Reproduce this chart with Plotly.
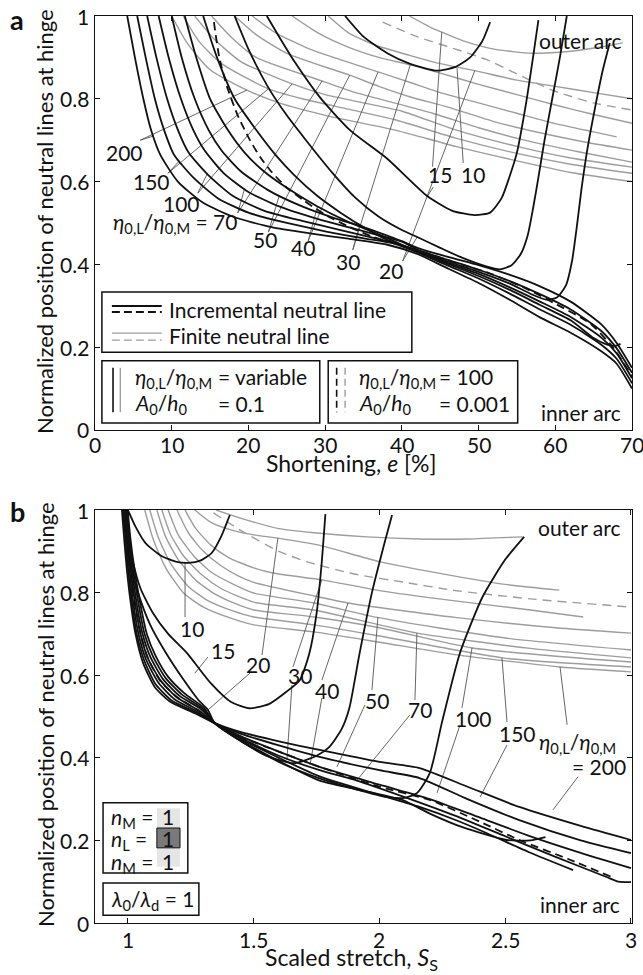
import plotly.graph_objects as go

FONT = "Lato"
FS = 21
BLACK = "#111111"
GRAY = "#9d9d9d"
LEAD = "#555555"

# ---------------- Panel a : incremental neutral lines (black) ----------------
a200_x = [4.2,5.2,6.3,7.3,8.5,10.8,14,18,23,28,33,38,42,46,50,54,58,62,66,68,70]
a200_y = [1.0,0.9,0.8,0.725,0.665,0.6,0.55,0.515,0.49,0.475,0.462,0.448,0.425,0.39,0.355,0.315,0.272,0.235,0.19,0.16,0.10]
a150_x = [5.5,6.6,7.8,9.0,10.3,12.8,16,20,25,30,35,39,42,46,50,54,58,62,66,68,70]
a150_y = [1.0,0.9,0.8,0.725,0.665,0.61,0.56,0.525,0.5,0.48,0.463,0.45,0.429,0.397,0.366,0.33,0.291,0.254,0.206,0.172,0.113]
a100_x = [6.8,8.0,9.4,10.8,12.2,14.8,18,22,27,32,36,39,42,46,50,54,58,62,66,68,70]
a100_y = [1.0,0.9,0.8,0.725,0.67,0.615,0.565,0.53,0.505,0.483,0.465,0.452,0.433,0.404,0.377,0.345,0.31,0.273,0.223,0.185,0.125]
a70_x = [8.3,9.6,11.2,12.8,14.3,16.8,20,24,29,33,37,40,42,46,50,54,58,62,66,68,70]
a70_y = [1.0,0.9,0.8,0.725,0.675,0.62,0.575,0.54,0.51,0.49,0.47,0.455,0.436,0.411,0.387,0.36,0.328,0.291,0.239,0.197,0.138]
a50_x = [10.0,11.3,13.0,14.8,16.5,19,22.5,27,31,35,38,40,42,46,50,54,58,62,66,68,70]
a50_y = [1.0,0.9,0.8,0.725,0.675,0.625,0.58,0.54,0.513,0.49,0.47,0.456,0.44,0.418,0.398,0.375,0.347,0.31,0.255,0.21,0.15]
a40_x = [11.7,13.2,15.0,17.3,19.5,22,25,29,33,36,38.5,42,46,50,54,58,62,65,66.5,67.8,68.5]
a40_y = [1.0,0.9,0.8,0.725,0.67,0.625,0.585,0.54,0.503,0.48,0.46,0.431,0.401,0.372,0.339,0.302,0.265,0.222,0.208,0.203,0.208]
a30_x = [14.1,15.9,18.2,21,23.5,26,29,32,35,38,42,46,50,54,57,58.8,60.2,61.4,62.2,62.8,63.4,64.2,65.2,66.2,67.1]
a30_y = [1.0,0.9,0.8,0.725,0.665,0.615,0.565,0.525,0.49,0.46,0.434,0.407,0.382,0.354,0.327,0.315,0.32,0.35,0.41,0.49,0.58,0.68,0.78,0.87,0.935]
a20_x = [18.2,20,22.5,25,27.5,31,34,37,40,42,45,48,51,52.8,54.3,55.5,56.4,57.1,57.8,58.6,59.6,60.6,61.5]
a20_y = [1.0,0.92,0.83,0.76,0.70,0.62,0.56,0.515,0.483,0.466,0.44,0.415,0.395,0.388,0.398,0.425,0.47,0.535,0.61,0.7,0.8,0.9,1.0]
a15_x = [22.4,24,26,29.3,33.2,38.1,43.3,46.5,49.5,51.5,53,54,55,56.2,57.1,57.8]
a15_y = [1.0,0.95,0.89,0.804,0.725,0.655,0.565,0.53,0.519,0.525,0.56,0.61,0.67,0.79,0.9,0.99]
a10_x = [32.6,35,38.1,41,44.6,47,48.9,50.5,51.5]
a10_y = [1.0,0.95,0.91,0.885,0.868,0.877,0.9,0.94,0.985]
adash_x = [15.5,16.2,17.2,18.6,20.2,21.5,22.8,25,27.1,30,33.2,36.3,40,43.5,47.2,51.5,55.8,60,64.5,67.5,70]
adash_y = [0.985,0.9,0.83,0.76,0.70,0.66,0.628,0.585,0.556,0.52,0.49,0.466,0.445,0.425,0.403,0.378,0.345,0.305,0.258,0.2,0.13]

# ---------------- Panel a : finite neutral lines (gray) ----------------
ga200_x = [10,12,15,19.8,24,30,39,47,55,62,70]
ga200_y = [1,0.935,0.87,0.821,0.79,0.76,0.725,0.685,0.65,0.622,0.60]
ga150_x = [11.5,13.5,16.5,22.6,27,33,39,47,55,62,70]
ga150_y = [1,0.94,0.885,0.824,0.8,0.775,0.75,0.705,0.668,0.642,0.62]
ga100_x = [13,15.5,19,25.7,30,35,40,47,55,62,70]
ga100_y = [1,0.945,0.89,0.836,0.81,0.79,0.77,0.725,0.685,0.657,0.635]
ga70_x = [15.2,17.7,21,29.6,34,39,44,50,56,63,70]
ga70_y = [1,0.95,0.9,0.843,0.815,0.79,0.765,0.73,0.7,0.672,0.647]
ga50_x = [18.2,21,25,33.2,37,41,46,52,58,64,70]
ga50_y = [1,0.955,0.91,0.857,0.83,0.805,0.78,0.745,0.718,0.695,0.676]
ga40_x = [20.5,23.5,28,36.9,41,45,50,55,60,65,68]
ga40_y = [1,0.96,0.92,0.865,0.84,0.815,0.79,0.765,0.74,0.72,0.708]
ga30_x = [25.7,29,33,37,41.1,45,50,55,60,65,70]
ga30_y = [1,0.96,0.925,0.9,0.882,0.862,0.835,0.81,0.785,0.762,0.741]
ga20_x = [30.4,33,36.5,41,45,49.5,55,60,65,70]
ga20_y = [1,0.96,0.93,0.905,0.885,0.868,0.845,0.83,0.815,0.80]
ga15_x = [41,44,45.2,48,52,57,62,66,68.8]
ga15_y = [1,0.97,0.961,0.94,0.92,0.91,0.915,0.925,0.935]
gadash_x = [37.5,42,47,51,55,59.7,65,70]
gadash_y = [0.985,0.95,0.92,0.895,0.86,0.82,0.79,0.773]

# ---------------- Panel b : incremental neutral lines (black) ----------------
b200_x = [0.976,0.985,0.995,1.01,1.03,1.06,1.107,1.17,1.266,1.345,1.45,1.6,1.762,2.0,2.159,2.35,2.556,2.8,3.0]
b200_y = [1,0.93,0.86,0.78,0.7,0.63,0.571,0.535,0.508,0.484,0.462,0.44,0.419,0.39,0.375,0.33,0.281,0.235,0.201]
b150_x = [0.98,0.99,1.0,1.015,1.035,1.065,1.11,1.175,1.27,1.345,1.45,1.6,1.762,2.0,2.159,2.35,2.556,2.8,3.0]
b150_y = [1,0.93,0.86,0.78,0.7,0.635,0.578,0.538,0.51,0.484,0.458,0.43,0.402,0.37,0.351,0.3,0.249,0.2,0.169]
b100_x = [0.984,0.994,1.005,1.02,1.042,1.072,1.12,1.185,1.275,1.345,1.45,1.6,1.762,2.0,2.2,2.4,2.6,2.8,3.0]
b100_y = [1,0.93,0.86,0.78,0.7,0.638,0.583,0.542,0.512,0.484,0.452,0.415,0.378,0.335,0.3,0.255,0.21,0.17,0.133]
b70_x = [0.988,0.998,1.01,1.027,1.05,1.08,1.13,1.195,1.28,1.345,1.45,1.6,1.762,1.91,2.1,2.3,2.5,2.7,2.9,2.95,3.0]
b70_y = [1,0.93,0.86,0.78,0.7,0.64,0.587,0.546,0.515,0.484,0.448,0.405,0.37,0.345,0.305,0.26,0.21,0.16,0.112,0.1,0.099]
b50_x = [0.992,1.002,1.015,1.033,1.058,1.09,1.14,1.205,1.29,1.345,1.45,1.6,1.762,2.0,2.159,2.3,2.425,2.6,2.77]
b50_y = [1,0.93,0.86,0.78,0.7,0.643,0.59,0.55,0.518,0.484,0.445,0.4,0.355,0.31,0.281,0.25,0.218,0.17,0.128]
b40_x = [0.996,1.006,1.02,1.04,1.066,1.1,1.15,1.215,1.295,1.345,1.45,1.6,1.762,1.9,2.09,2.2,2.33,2.505,2.6,2.66]
b40_y = [1,0.93,0.86,0.78,0.7,0.645,0.593,0.553,0.52,0.484,0.442,0.392,0.345,0.325,0.298,0.265,0.232,0.201,0.2,0.208]
b30_x = [0.999,1.01,1.025,1.047,1.075,1.11,1.16,1.225,1.3,1.345,1.45,1.6,1.762,1.9,2.03,2.1,2.15,2.2,2.25,2.32,2.41,2.5,2.575]
b30_y = [1,0.93,0.86,0.78,0.7,0.647,0.596,0.556,0.522,0.484,0.44,0.39,0.35,0.325,0.305,0.303,0.315,0.363,0.49,0.654,0.79,0.88,0.935]
b20_x = [0.997,1.0,1.01,1.04,1.09,1.15,1.22,1.28,1.318,1.345,1.45,1.55,1.66,1.75,1.8,1.85,1.88,1.92,1.97,2.02,2.05]
b20_y = [1,0.93,0.87,0.8,0.72,0.655,0.59,0.54,0.516,0.484,0.44,0.405,0.387,0.405,0.426,0.47,0.52,0.65,0.8,0.92,0.988]
b15_x = [0.998,1.005,1.02,1.05,1.1,1.16,1.234,1.33,1.41,1.484,1.56,1.63,1.683,1.72,1.75,1.77,1.785]
b15_y = [1,0.93,0.875,0.81,0.75,0.7,0.654,0.58,0.535,0.52,0.53,0.56,0.588,0.65,0.75,0.87,0.99]
b10_x = [1.0,1.03,1.07,1.13,1.19,1.24,1.29,1.333,1.37,1.405]
b10_y = [1.0,0.96,0.92,0.89,0.875,0.872,0.878,0.896,0.935,0.988]
bdash_x = [0.985,0.995,1.008,1.025,1.05,1.08,1.13,1.2,1.28,1.345,1.45,1.6,1.762,2.0,2.2,2.4,2.556,2.75,2.925]
bdash_y = [1,0.93,0.86,0.78,0.7,0.64,0.585,0.545,0.515,0.484,0.45,0.415,0.378,0.33,0.298,0.245,0.201,0.155,0.111]

# ---------------- Panel b : finite neutral lines (gray) ----------------
gb200_x = [1.067,1.1,1.15,1.22,1.3,1.4,1.5,1.74,2.0,2.3,2.72,3.0]
gb200_y = [1,0.93,0.86,0.8,0.765,0.74,0.722,0.705,0.68,0.65,0.62,0.608]
gb150_x = [1.087,1.12,1.17,1.24,1.32,1.42,1.5,1.74,2.0,2.49,3.0]
gb150_y = [1,0.935,0.87,0.815,0.78,0.755,0.741,0.722,0.695,0.642,0.62]
gb100_x = [1.115,1.15,1.2,1.27,1.35,1.42,1.5,1.74,2.0,2.37,3.0]
gb100_y = [1,0.935,0.88,0.83,0.795,0.775,0.758,0.741,0.715,0.666,0.632]
gb70_x = [1.135,1.17,1.22,1.29,1.37,1.5,1.74,2.15,2.6,3.0]
gb70_y = [1,0.94,0.89,0.845,0.81,0.777,0.758,0.702,0.665,0.642]
gb50_x = [1.16,1.2,1.26,1.33,1.42,1.5,1.74,1.99,2.5,3.0]
gb50_y = [1,0.94,0.89,0.85,0.82,0.799,0.775,0.74,0.69,0.661]
gb40_x = [1.195,1.24,1.3,1.37,1.44,1.5,1.74,1.875,2.3,2.7,3.0]
gb40_y = [1,0.945,0.9,0.865,0.84,0.825,0.792,0.775,0.74,0.715,0.702]
gb30_x = [1.227,1.27,1.33,1.4,1.5,1.6,1.771,2.0,2.3,2.6,2.81]
gb30_y = [1,0.955,0.915,0.885,0.86,0.845,0.831,0.805,0.78,0.758,0.741]
gb20_x = [1.266,1.33,1.42,1.5,1.596,1.76,2.0,2.3,2.5,2.715]
gb20_y = [1,0.97,0.95,0.94,0.932,0.915,0.875,0.84,0.82,0.806]
gb15_x = [1.35,1.45,1.6,1.74,1.95,2.16,2.35,2.57]
gb15_y = [1,0.98,0.955,0.945,0.935,0.93,0.93,0.935]
gbdash_x = [1.34,1.45,1.6,1.716,1.9,2.1,2.29,2.6,3.0]
gbdash_y = [0.993,0.95,0.9,0.874,0.845,0.825,0.806,0.785,0.765]

# ---------------- ticks ----------------
xa_ticks = [0, 10, 20, 30, 40, 50, 60, 70]
xa_labels = ["0", "10", "20", "30", "40", "50", "60", "70"]
xb_ticks = [1, 1.5, 2, 2.5, 3]
xb_labels = ["1", "1.5", "2", "2.5", "3"]
y_ticks = [0, 0.2, 0.4, 0.6, 0.8, 1]
y_labels = ["0", "0.2", "0.4", "0.6", "0.8", "1"]

# ---------------- labels and leader lines ----------------
lab_a_text = ["200", "150", "100", "<i>η</i><sub>0,L</sub>/<i>η</i><sub>0,M</sub> = 70", "50", "40", "30", "20", "15", "10"]
lab_a_x = [3.8, 7.4, 11.3, 10.4, 22.2, 27.1, 33.0, 38.6, 45.0, 49.3]
lab_a_y = [0.671, 0.60, 0.548, 0.50, 0.459, 0.44, 0.408, 0.386, 0.616, 0.616]
lead_a = [
    (5.9, 0.70, 19.8, 0.821), (5.9, 0.70, 7.6, 0.71),
    (9.5, 0.62, 22.6, 0.824), (9.5, 0.62, 11.0, 0.65),
    (13.4, 0.572, 25.7, 0.836), (13.4, 0.572, 14.6, 0.618),
    (18.6, 0.524, 29.6, 0.843), (18.6, 0.524, 19.5, 0.583),
    (22.6, 0.478, 33.2, 0.857), (22.6, 0.478, 24.0, 0.565),
    (27.8, 0.457, 36.9, 0.865), (27.8, 0.457, 29.0, 0.54),
    (33.6, 0.435, 41.1, 0.882), (33.6, 0.435, 34.5, 0.495),
    (40.1, 0.408, 49.5, 0.868), (40.1, 0.408, 42.0, 0.466),
    (44.0, 0.636, 45.2, 0.961), (44.1, 0.587, 43.3, 0.563),
    (48.0, 0.645, 47.2, 0.874),
]
lab_b_text = ["10", "15", "20", "30", "40", "50", "70", "100", "150",
              "<i>η</i><sub>0,L</sub>/<i>η</i><sub>0,M</sub>", "= 200"]
lab_b_x = [1.254, 1.378, 1.517, 1.684, 1.791, 1.99, 2.161, 2.372, 2.547, 2.789, 2.873]
lab_b_y = [0.714, 0.661, 0.625, 0.60, 0.564, 0.54, 0.516, 0.496, 0.46, 0.436, 0.378]
lead_b = [
    (1.227, 0.741, 1.227, 0.872),
    (1.318, 0.644, 1.266, 0.605),
    (1.533, 0.649, 1.596, 0.932), (1.485, 0.605, 1.318, 0.516),
    (1.656, 0.62, 1.771, 0.831), (1.652, 0.576, 1.632, 0.395),
    (1.771, 0.588, 1.875, 0.775), (1.771, 0.545, 1.724, 0.383),
    (1.97, 0.564, 1.994, 0.741), (1.942, 0.528, 1.831, 0.378),
    (2.141, 0.54, 2.149, 0.702), (2.121, 0.504, 1.911, 0.346),
    (2.328, 0.521, 2.368, 0.666), (2.32, 0.479, 2.229, 0.315),
    (2.507, 0.487, 2.487, 0.642), (2.507, 0.431, 2.4, 0.305),
    (2.746, 0.48, 2.718, 0.62), (2.789, 0.354, 2.69, 0.274),
]

fig = go.Figure()


def add(xs, ys, xa, ya, color, width, dash="solid"):
    fig.add_trace(go.Scatter(
        x=xs, y=ys, xaxis=xa, yaxis=ya, mode="lines",
        line=dict(color=color, width=width, dash=dash, shape="spline", smoothing=0.6),
        hoverinfo="skip", showlegend=False))


def add_segments(segs, xa, ya):
    xs, ys = [], []
    for x0, y0, x1, y1 in segs:
        xs += [x0, x1, None]
        ys += [y0, y1, None]
    fig.add_trace(go.Scatter(x=xs, y=ys, xaxis=xa, yaxis=ya, mode="lines",
                             line=dict(color=LEAD, width=0.9),
                             hoverinfo="skip", showlegend=False))


for gx, gy in [(ga200_x, ga200_y), (ga150_x, ga150_y), (ga100_x, ga100_y), (ga70_x, ga70_y),
               (ga50_x, ga50_y), (ga40_x, ga40_y), (ga30_x, ga30_y), (ga20_x, ga20_y),
               (ga15_x, ga15_y)]:
    add(gx, gy, "x", "y", GRAY, 1.4)
add(gadash_x, gadash_y, "x", "y", GRAY, 1.4, "9px,6px")
for gx, gy in [(gb200_x, gb200_y), (gb150_x, gb150_y), (gb100_x, gb100_y), (gb70_x, gb70_y),
               (gb50_x, gb50_y), (gb40_x, gb40_y), (gb30_x, gb30_y), (gb20_x, gb20_y),
               (gb15_x, gb15_y)]:
    add(gx, gy, "x2", "y2", GRAY, 1.4)
add(gbdash_x, gbdash_y, "x2", "y2", GRAY, 1.4, "9px,6px")

add_segments(lead_a, "x", "y")
add_segments(lead_b, "x2", "y2")

for bx, by in [(a200_x, a200_y), (a150_x, a150_y), (a100_x, a100_y), (a70_x, a70_y),
               (a50_x, a50_y), (a40_x, a40_y), (a30_x, a30_y), (a20_x, a20_y),
               (a15_x, a15_y), (a10_x, a10_y)]:
    add(bx, by, "x", "y", BLACK, 1.8)
add(adash_x, adash_y, "x", "y", BLACK, 1.8, "8px,5px")
for bx, by in [(b200_x, b200_y), (b150_x, b150_y), (b100_x, b100_y), (b70_x, b70_y),
               (b50_x, b50_y), (b40_x, b40_y), (b30_x, b30_y), (b20_x, b20_y),
               (b15_x, b15_y), (b10_x, b10_y)]:
    add(bx, by, "x2", "y2", BLACK, 1.8)
add(bdash_x, bdash_y, "x2", "y2", BLACK, 1.8, "8px,5px")

# legend samples panel a
add([2.2, 8.7], [0.2995, 0.2995], "x", "y", BLACK, 1.8)
add([2.2, 8.7], [0.285, 0.285], "x", "y", BLACK, 1.8, "8px,4px")
add([2.2, 8.7], [0.234, 0.234], "x", "y", GRAY, 1.4)
add([2.2, 8.7], [0.217, 0.217], "x", "y", GRAY, 1.4, "8px,4px")
add([2.35, 2.35], [0.15, 0.043], "x", "y", BLACK, 1.6)
add([3.3, 3.3], [0.15, 0.043], "x", "y", GRAY, 1.4)
add([31.5, 31.5], [0.15, 0.043], "x", "y", BLACK, 1.6, "7px,4px")
add([32.6, 32.6], [0.15, 0.043], "x", "y", GRAY, 1.4, "7px,4px")

ann = []


def txt(t, x, y, xr, yr, size=FS, xa="center", ya="middle", **kw):
    ann.append(dict(text=t, x=x, y=y, xref=xr, yref=yr, showarrow=False,
                    xanchor=xa, yanchor=ya, font=dict(family=FONT, size=size, color=BLACK), **kw))


for v, t in zip(xa_ticks, xa_labels):
    txt(t, v, 0, "x", "y", yshift=-15)
for v, t in zip(xb_ticks, xb_labels):
    txt(t, v, 0, "x2", "y2", yshift=-16)
for v, t in zip(y_ticks, y_labels):
    txt(t, 0, v, "x", "y", xa="right", xshift=-4)
    txt(t, 0.869, v, "x2", "y2", xa="right", xshift=-4)

for t, x, y in zip(lab_a_text, lab_a_x, lab_a_y):
    txt(t, x, y, "x", "y")
for t, x, y in zip(lab_b_text, lab_b_x, lab_b_y):
    txt(t, x, y, "x2", "y2")

txt("Incremental neutral line", 9.4, 0.292, "x", "y", xa="left")
txt("Finite neutral line", 9.4, 0.227, "x", "y", xa="left")
txt("<i>η</i><sub>0,L</sub>/<i>η</i><sub>0,M</sub>", 4.9, 0.125, "x", "y", xa="left")
txt("= variable", 15.8, 0.128, "x", "y", xa="left")
txt("<i>A</i><sub>0</sub>/<i>h</i><sub>0</sub>", 4.9, 0.063, "x", "y", xa="left")
txt("= 0.1", 15.8, 0.065, "x", "y", xa="left")
txt("<i>η</i><sub>0,L</sub>/<i>η</i><sub>0,M</sub>", 34.2, 0.125, "x", "y", xa="left")
txt("= 100", 44.6, 0.128, "x", "y", xa="left")
txt("<i>A</i><sub>0</sub>/<i>h</i><sub>0</sub>", 34.2, 0.063, "x", "y", xa="left")
txt("= 0.001", 44.6, 0.065, "x", "y", xa="left")
txt("outer arc", 68.8, 0.94, "x", "y", xa="right")
txt("inner arc", 68.8, 0.042, "x", "y", xa="right")

txt("<i>n</i><sub>M</sub> =", 0.925, 0.255, "x2", "y2", xa="left")
txt("<i>n</i><sub>L</sub> =", 0.925, 0.2, "x2", "y2", xa="left")
txt("<i>n</i><sub>M</sub> =", 0.925, 0.146, "x2", "y2", xa="left")
txt("1", 1.161, 0.257, "x2", "y2")
txt("1", 1.161, 0.204, "x2", "y2")
txt("1", 1.161, 0.150, "x2", "y2")
txt("<i>λ</i><sub>0</sub>/<i>λ</i><sub>d</sub> = 1", 0.925, 0.056, "x2", "y2", xa="left")
txt("outer arc", 2.965, 0.958, "x2", "y2", xa="right")
txt("inner arc", 2.965, 0.044, "x2", "y2", xa="right")

txt("Shortening, <i>e</i> [%]", 33.5, 0, "x", "y", size=23, yshift=-33)
txt("Scaled stretch, <i>S</i><sub>S</sub>", 1.89, 0, "x2", "y2", size=23, yshift=-35)
txt("Normalized position of neutral lines at hinge", 0, 0.7729, "paper", "paper",
    size=22, xshift=-50, textangle=-90)
txt("Normalized position of neutral lines at hinge", 0, 0.2293, "paper", "paper",
    size=22, xshift=-50, textangle=-90)
ann.append(dict(text="<b>a</b>", x=0, y=1, xref="paper", yref="paper", xanchor="center", yanchor="middle",
                xshift=-78, yshift=-3, showarrow=False, font=dict(family=FONT, size=27, color=BLACK)))
ann.append(dict(text="<b>b</b>", x=0, y=0.4553, xref="paper", yref="paper", xanchor="center", yanchor="middle",
                xshift=-78, yshift=-1, showarrow=False, font=dict(family=FONT, size=27, color=BLACK)))

shapes = []


def box(x0, x1, y0, y1, xr, yr, lw=1.5):
    shapes.append(dict(type="rect", x0=x0, x1=x1, y0=y0, y1=y1, xref=xr, yref=yr,
                       line=dict(color=BLACK, width=lw), fillcolor="rgba(0,0,0,0)", layer="above"))


box(0.9, 41.3, 0.188, 0.333, "x", "y")
box(0.9, 29.3, 0.017, 0.167, "x", "y")
box(30.4, 55.1, 0.017, 0.167, "x", "y")
box(0.901, 1.238, 0.121, 0.291, "x2", "y2")
box(0.901, 1.282, 0.019, 0.097, "x2", "y2")
shapes.append(dict(type="rect", x0=1.115, x1=1.207, y0=0.136, y1=0.278, xref="x2", yref="y2",
                   line=dict(width=0), fillcolor="#e6e6e6", layer="below"))
shapes.append(dict(type="rect", x0=1.115, x1=1.207, y0=0.182, y1=0.23, xref="x2", yref="y2",
                   line=dict(color=BLACK, width=1), fillcolor="#7a7a7a", layer="below"))

axis_common = dict(showline=True, linecolor=BLACK, linewidth=1.3, mirror="ticks",
                   ticks="inside", ticklen=5, tickcolor=BLACK, showgrid=False, zeroline=False,
                   showticklabels=False)

fig.update_layout(
    width=643, height=975,
    margin=dict(l=95, r=11, t=16, b=52),
    paper_bgcolor="white", plot_bgcolor="white",
    xaxis=dict(domain=[0, 1], range=[0, 70], anchor="y", tickvals=xa_ticks, **axis_common),
    yaxis=dict(domain=[0.5436, 1], range=[0, 1], anchor="x", tickvals=y_ticks, **axis_common),
    xaxis2=dict(domain=[0, 1], range=[0.869, 3.004], anchor="y2", tickvals=xb_ticks, **axis_common),
    yaxis2=dict(domain=[0, 0.4553], range=[0, 1], anchor="x2", tickvals=y_ticks, **axis_common),
    annotations=ann, shapes=shapes, showlegend=False,
)

fig.write_html("out.html", config={"displayModeBar": False},
               post_script="document.body.style.margin='0px';document.body.style.overflow='hidden';")
